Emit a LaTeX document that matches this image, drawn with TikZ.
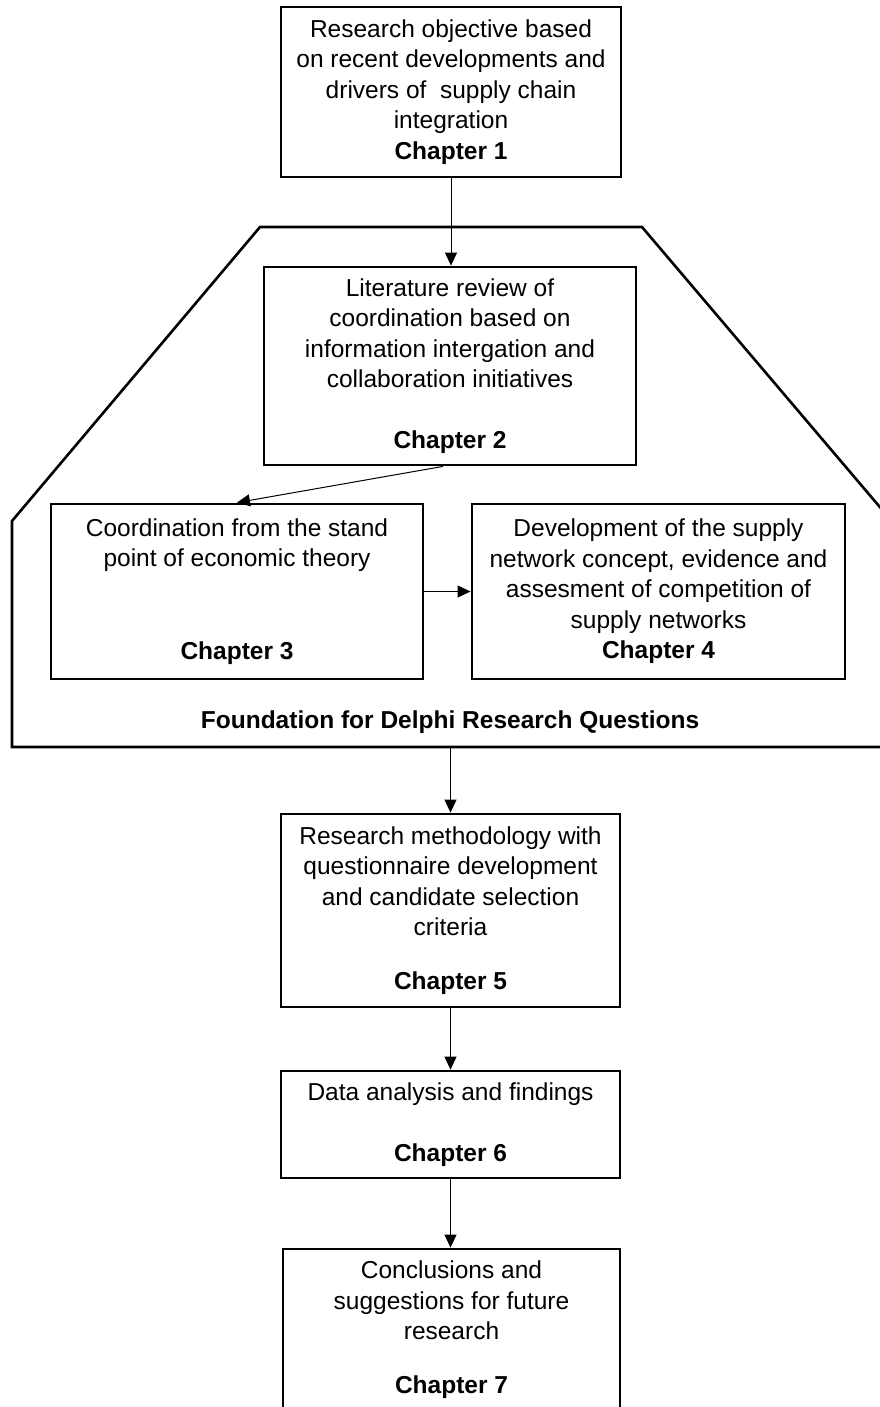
\documentclass[tikz,border=0pt]{standalone}
\usepackage{fontspec}
\setmainfont{Liberation Sans}
\usetikzlibrary{arrows.meta}
\begin{document}
\begin{tikzpicture}[x=1pt,y=-1pt,
  box/.style={draw, line width=2.8pt, inner sep=0pt, align=center,
    font=\fontsize{24.5}{30.5}\selectfont},
  link/.style={line width=1pt, -{Triangle[length=13pt,width=12pt]}},
  frame/.style={draw, line width=2.6pt, line join=miter},
  lbl/.style={inner sep=0pt, font=\fontsize{24.5}{30.5}\selectfont\bfseries}]
\useasboundingbox (0,0) rectangle (880,1407);
\clip (0,0) rectangle (880,1407);

% outline grouping the literature chapters
\draw[frame] (12,747) -- (12,521) -- (260,227) -- (642,227) -- (890,519) -- (890,747) -- cycle;
\coordinate (fb) at (450.5,747);
\node[lbl] (fq) at (450,722) {Foundation for Delphi Research Questions};

% chapter boxes
\node[box, minimum width=340pt, minimum height=170pt] (b1) at (451,92)
  {Research objective based\\on recent developments and\\drivers of\ \ supply chain\\integration\\\textbf{Chapter 1}};
\node[box, minimum width=372pt, minimum height=198pt] (b2) at (450,366)
  {Literature review of\\coordination based on\\information intergation and\\collaboration initiatives\\[30pt]\textbf{Chapter 2}};
\node[box, minimum width=372pt, minimum height=175pt] (b3) at (237,591.5)
  {Coordination from the stand\\point of economic theory\\[62pt]\textbf{Chapter 3}};
\node[box, minimum width=373pt, minimum height=175pt] (b4) at (658.5,591.5)
  {Development of the supply\\network concept, evidence and\\assesment of competition of\\supply networks\\\textbf{Chapter 4}};
\node[box, minimum width=339pt, minimum height=193pt] (b5) at (450.5,910.5)
  {Research methodology with\\questionnaire development\\and candidate selection\\criteria\\[23.5pt]\textbf{Chapter 5}};
\node[box, minimum width=339pt, minimum height=107pt] (b6) at (450.5,1124.5)
  {Data analysis and findings\\[30pt]\textbf{Chapter 6}};
\node[box, minimum width=337pt, minimum height=162pt] (b7) at (451.5,1330)
  {Conclusions and\\suggestions for future\\research\\[23.5pt]\textbf{Chapter 7}};

% connectors
\draw[link] (b1.south) -- (b1.south |- b2.north);
\draw[link] ([xshift=-7pt]b2.south) -- (b3.north);
\draw[link] (b3.east) -- (b4.west);
\draw[link] (fb) -- (fb |- b5.north);
\draw[link] (b5.south) -- (b5.south |- b6.north);
\draw[link] (b6.south) -- (b6.south |- b7.north);
\end{tikzpicture}
\end{document}
